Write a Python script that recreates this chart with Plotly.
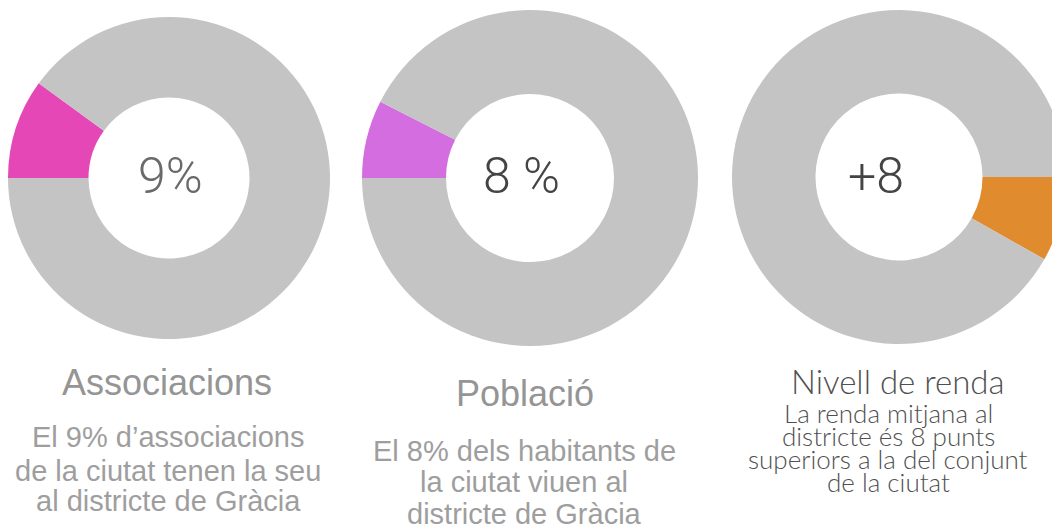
import plotly.graph_objects as go

W, H = 1060, 524
OFF = 8  # the page puts the figure 8px in from the top-left corner

shares = [10, 7.5, 8.2]
centre_labels = ["9%", "8 %", "+8"]
highlight_colours = ["#e548b6", "#d46de0", "#e08b2e"]
rest_colour = "#c4c4c4"
titles = ["Associacions", "Població", "Nivell de renda"]
descriptions = [
    ["El 9% d’associacions", "de la ciutat tenen la seu", "al districte de Gràcia"],
    ["El 8% dels habitants de", "la ciutat viuen al", "districte de Gràcia"],
    ["La renda mitjana al", "districte és 8 punts", "superiors a la del conjunt", "de la ciutat"],
]

# layout of each panel in page pixels: ring box (left, top, size), text centres
ring_boxes = [(8, 17, 322), (362, 10, 336), (732, 10, 334)]
start_dirs = [(270, "clockwise"), (270, "clockwise"), (90, "counterclockwise")]
centre_xy = [(170, 176), (521, 176), (876, 176)]
centre_fonts = [
    dict(family="Roboto", size=50, color="#6a6a6a", weight=300),
    dict(family="Roboto", size=50, color="#444444", weight=300),
    dict(family="Roboto", size=50, color="#444444", weight=300),
]
title_xy = [(167, 382), (525, 393), (898, 381)]
desc_x = [168, 524, 888]
desc_y = [[437, 471, 501], [451, 482, 514], [413, 436, 459, 482]]


def px(x, y):
    return (x - OFF) / W, 1 - (y - OFF) / H


fig = go.Figure()

for i in range(3):
    l, t, s = ring_boxes[i]
    rot, direction = start_dirs[i]
    x0, y1 = px(l, t)
    x1, y0 = px(l + s, t + s)
    fig.add_trace(go.Pie(
        values=[shares[i], 100 - shares[i]],
        marker=dict(colors=[highlight_colours[i], rest_colour], line=dict(width=0)),
        hole=0.5, sort=False, rotation=rot, direction=direction,
        textinfo="none", hoverinfo="skip", showlegend=False,
        domain=dict(x=[x0, min(1.0, x1)], y=[y0, y1]),
    ))

    ax, ay = px(*centre_xy[i])
    fig.add_annotation(text=centre_labels[i], x=ax, y=ay, xref="paper", yref="paper",
                       showarrow=False, xanchor="center", yanchor="middle",
                       font=centre_fonts[i])

    # panel title + description; the third panel uses a rounder, darker face
    if i < 2:
        tfont = dict(family="Liberation Sans", size=36, color="#959595")
        dfont = dict(family="Liberation Sans", size=29, color="#9e9e9e")
    else:
        tfont = dict(family="Lato", size=33, color="#505050", weight=300)
        dfont = dict(family="Lato", size=26, color="#505050", weight=300)

    tx, ty = px(*title_xy[i])
    fig.add_annotation(text=titles[i], x=tx, y=ty, xref="paper", yref="paper",
                       showarrow=False, xanchor="center", yanchor="middle", font=tfont)
    for line, ly in zip(descriptions[i], desc_y[i]):
        lx, lyp = px(desc_x[i], ly)
        fig.add_annotation(text=line, x=lx, y=lyp, xref="paper", yref="paper",
                           showarrow=False, xanchor="center", yanchor="middle", font=dfont)

fig.update_layout(
    width=W, height=H,
    margin=dict(l=0, r=0, t=0, b=0),
    paper_bgcolor="white", plot_bgcolor="white",
)
fig.write_html("out.html")
